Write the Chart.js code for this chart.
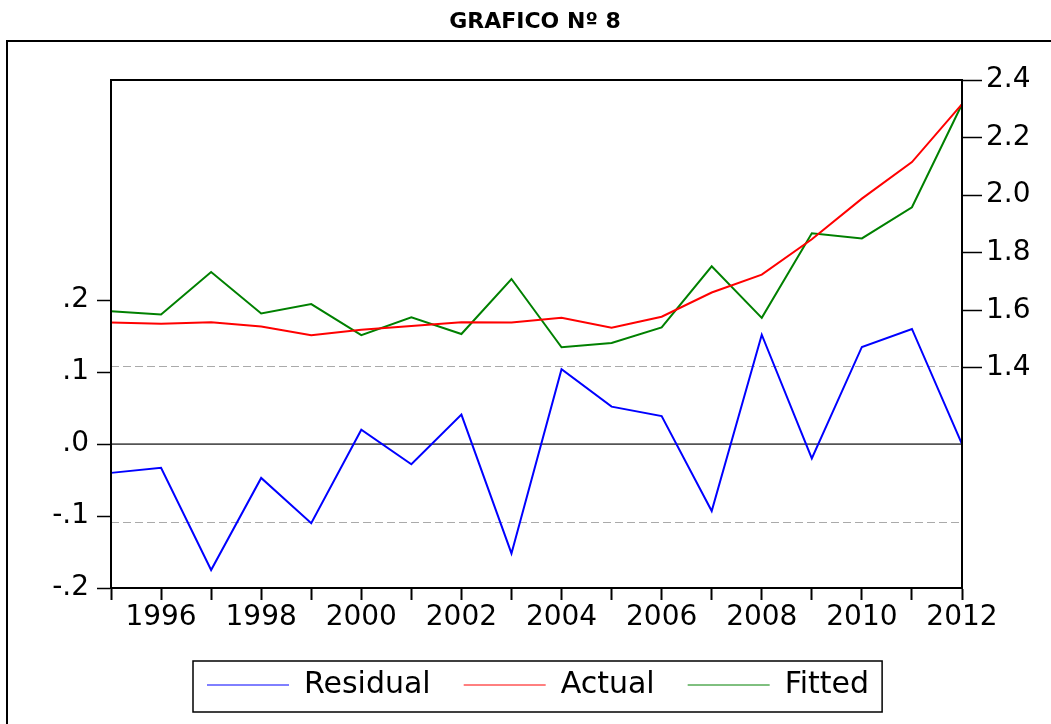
<!DOCTYPE html>
<html>
<head>
<meta charset="utf-8">
<script src="https://cdn.jsdelivr.net/npm/chart.js@4.4.1/dist/chart.umd.min.js"></script>
<style>
  html, body { margin: 0; padding: 0; background: #fff; overflow: hidden; }
  #wrap { position: absolute; left: 0; top: 0; width: 1070px; height: 724px; }
</style>
</head>
<body>
<div id="wrap"><canvas id="chart" width="1070" height="724"></canvas></div>
<script>
// datos
const years = ['1995', '1996', '1997', '1998', '1999', '2000', '2001', '2002', '2003',
               '2004', '2005', '2006', '2007', '2008', '2009', '2010', '2011', '2012'];
const residual = [-0.040, -0.033, -0.175, -0.047, -0.110, 0.020, -0.028, 0.041, -0.152,
                  0.104, 0.052, 0.039, -0.093, 0.152, -0.020, 0.135, 0.160, 0.000];
const actual = [1.558, 1.554, 1.559, 1.544, 1.514, 1.533, 1.546, 1.559, 1.558,
                1.574, 1.540, 1.578, 1.662, 1.724, 1.847, 1.988, 2.115, 2.316];
const fitted = [1.597, 1.586, 1.733, 1.589, 1.622, 1.514, 1.576, 1.518, 1.709,
                1.472, 1.487, 1.541, 1.753, 1.574, 1.868, 1.850, 1.958, 2.316];
const leftTicks = [-0.2, -0.1, 0.0, 0.1, 0.2];
const rightTicks = [1.4, 1.6, 1.8, 2.0, 2.2, 2.4];
const SE_BAND = 0.108;   // lineas punteadas +/- error estandar

const tickFont = { family: 'DejaVu Sans', size: 28 };

// marco exterior, linea cero, bandas y recuadro de la leyenda
const framePlugin = {
    id: 'frames',
    afterLayout(chart) {
        chart.legend.left = 174;
    },
    beforeDatasetsDraw(chart) {
        const ctx = chart.ctx;
        const a = chart.chartArea;
        const y = chart.scales.y;
        ctx.save();
        ctx.strokeStyle = '#aaaaaa';
        ctx.lineWidth = 1.2;
        ctx.setLineDash([8, 4]);
        [SE_BAND, -SE_BAND].forEach(v => {
            const py = Math.round(y.getPixelForValue(v)) + 0.5;
            ctx.beginPath();
            ctx.moveTo(a.left, py);
            ctx.lineTo(a.right, py);
            ctx.stroke();
        });
        ctx.setLineDash([]);
        ctx.strokeStyle = '#555555';
        ctx.lineWidth = 1.6;
        const py0 = y.getPixelForValue(0);
        ctx.beginPath();
        ctx.moveTo(a.left, py0);
        ctx.lineTo(a.right, py0);
        ctx.stroke();
        ctx.restore();
    },
    afterDraw(chart) {
        const ctx = chart.ctx;
        const a = chart.chartArea;
        ctx.save();
        ctx.strokeStyle = '#000';
        ctx.lineWidth = 2;
        ctx.strokeRect(a.left, a.top, a.right - a.left, a.bottom - a.top);
        // marco exterior
        ctx.beginPath();
        ctx.moveTo(7, chart.height);
        ctx.lineTo(7, 41);
        ctx.lineTo(chart.width, 41);
        ctx.stroke();
        // recuadro de la leyenda
        const hb = chart.legend.legendHitBoxes;
        if (hb && hb.length) {
            const first = hb[0], last = hb[hb.length - 1];
            const l = first.left - 14;
            const r = last.left + last.width + 13;
            const t = first.top - 9;
            const b = first.top + 42;
            ctx.lineWidth = 1.5;
            ctx.strokeRect(l, t, r - l, b - t);
        }
        ctx.restore();
    }
};

const ctx = document.getElementById('chart').getContext('2d');
new Chart(ctx, {
    type: 'line',
    data: {
        labels: years,
        datasets: [
            { label: 'Residual', data: residual, yAxisID: 'y', borderColor: '#0000ff', backgroundColor: '#0000ff' },
            { label: 'Actual', data: actual, yAxisID: 'y1', borderColor: '#ff0000', backgroundColor: '#ff0000' },
            { label: 'Fitted', data: fitted, yAxisID: 'y1', borderColor: '#008000', backgroundColor: '#008000' }
        ]
    },
    options: {
        responsive: false,
        animation: false,
        devicePixelRatio: 1,
        elements: {
            line: { borderWidth: 2, tension: 0 },
            point: { radius: 0 }
        },
        layout: { padding: { left: 0, right: 0, top: 0, bottom: 14 } },
        plugins: {
            title: {
                display: true,
                text: 'GRAFICO Nº 8',
                color: '#000',
                font: { family: 'DejaVu Sans', size: 22, weight: 'bold' },
                padding: { top: 9, bottom: 44.6 }
            },
            legend: {
                position: 'bottom',
                align: 'start',
                labels: {
                    usePointStyle: true,
                    pointStyle: 'line',
                    pointStyleWidth: 82,
                    padding: 33,
                    color: '#000',
                    font: { family: 'DejaVu Sans', size: 30 }
                }
            },
            tooltip: { enabled: false }
        },
        scales: {
            x: {
                type: 'category',
                offset: false,
                grid: { drawOnChartArea: false, tickLength: 12, tickColor: '#000', tickWidth: 2 },
                border: { display: true, color: '#000', width: 2 },
                ticks: {
                    autoSkip: false,
                    maxRotation: 0,
                    padding: 1,
                    color: '#000',
                    font: tickFont,
                    callback: function (val) {
                        const lab = this.getLabelForValue(val);
                        return Number(lab) % 2 === 0 ? lab : '';
                    }
                },
                afterFit(scale) { scale.height = 49; }
            },
            y: {
                position: 'left',
                min: -0.2,
                max: 0.506,
                afterBuildTicks(scale) { scale.ticks = leftTicks.map(v => ({ value: v })); },
                grid: { drawOnChartArea: false, tickLength: 14, tickColor: '#000', tickWidth: 1.5 },
                border: { display: true, color: '#000', width: 2 },
                ticks: {
                    padding: 8,
                    color: '#000',
                    font: tickFont,
                    callback: v => v.toFixed(1).replace('0.', '.')
                },
                afterFit(scale) { scale.width = 111; }
            },
            y1: {
                position: 'right',
                min: 0.636,
                max: 2.4,
                afterBuildTicks(scale) { scale.ticks = rightTicks.map(v => ({ value: v })); },
                grid: { drawOnChartArea: false, tickLength: 20, tickColor: '#000', tickWidth: 1.5 },
                border: { display: true, color: '#000', width: 2 },
                ticks: {
                    padding: 4,
                    color: '#000',
                    font: tickFont,
                    callback: v => v.toFixed(1)
                },
                afterFit(scale) { scale.width = 108; }
            }
        }
    },
    plugins: [framePlugin]
});
</script>
</body>
</html>
